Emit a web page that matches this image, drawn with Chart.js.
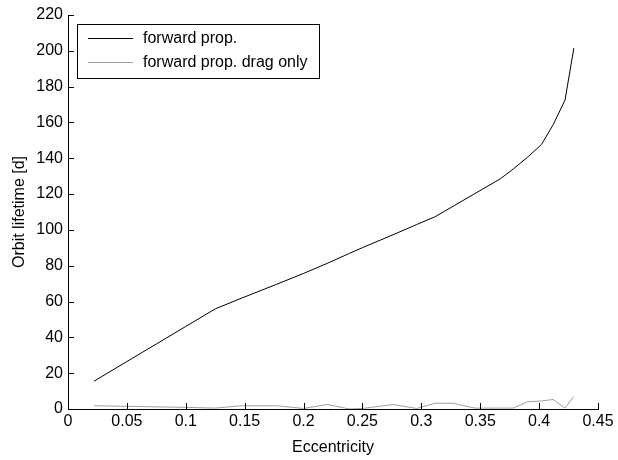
<!DOCTYPE html>
<html>
<head>
<meta charset="utf-8">
<script src="https://cdn.jsdelivr.net/npm/chart.js@4/dist/chart.umd.min.js"></script>
<style>
  html, body { margin: 0; padding: 0; background: #fff; }
  #wrap { width: 618px; height: 460px; }
</style>
</head>
<body>
<div id="wrap"><canvas id="lifetimeChart" width="618" height="460"></canvas></div>
<script>
// Eccentricity samples (shared by both curves)
const eccentricity = [0.022, 0.05, 0.075, 0.1, 0.125, 0.147, 0.177, 0.2, 0.22, 0.239, 0.25, 0.276,
  0.296, 0.3115, 0.327, 0.3455, 0.367, 0.378, 0.39, 0.402, 0.412, 0.422, 0.4295];

// Orbit lifetime in days
const forwardProp = [15.5, 26.5, 36.3, 46.1, 55.9, 61.8, 69.6, 75.7, 81.3, 86.9, 90.1, 97.3,
  103, 107.3, 113.2, 120.3, 128.5, 134, 140.5, 147.7, 158.8, 172.5, 201.5];
const dragOnly = [1.8, 1.5, 1.2, 0.9, 0.5, 1.8, 1.8, 0.3, 2.5, 0, 0.3, 2.5,
  0.3, 3.2, 3.2, 0.5, 0.5, 0.5, 4, 4.5, 5.3, 0.5, 7];

const seriesLabels = ['forward prop.', 'forward prop. drag only'];
const seriesColors = ['#000000', '#a0a0a0'];

const xTicks = [0, 0.05, 0.1, 0.15, 0.2, 0.25, 0.3, 0.35, 0.4, 0.45];
const yTicks = [0, 20, 40, 60, 80, 100, 120, 140, 160, 180, 200, 220];

const FONT = "'Liberation Sans', Arial, sans-serif";
const FONT_SIZE = 16;

function toPoints(ys) {
  return eccentricity.map((e, i) => ({ x: e, y: ys[i] }));
}

// inward tick marks + legend box drawn inside the axes
const matlabStyle = {
  id: 'matlabStyle',
  afterDraw(chart) {
    const ctx = chart.ctx;
    const xs = chart.scales.x;
    const ys = chart.scales.y;
    const area = chart.chartArea;
    ctx.save();
    ctx.strokeStyle = '#000';
    ctx.lineWidth = 1;
    ctx.beginPath();
    xTicks.forEach(v => {
      const px = Math.round(xs.getPixelForValue(v)) + 0.5;
      ctx.moveTo(px, area.bottom);
      ctx.lineTo(px, area.bottom - 6);
    });
    yTicks.forEach(v => {
      const py = Math.round(ys.getPixelForValue(v)) + 0.5;
      ctx.moveTo(area.left, py);
      ctx.lineTo(area.left + 6, py);
    });
    ctx.stroke();

    // legend
    const lx = 77.5, ly = 24.5, lw = 242, lh = 54;
    ctx.fillStyle = '#fff';
    ctx.fillRect(lx, ly, lw, lh);
    ctx.strokeRect(lx, ly, lw, lh);
    ctx.font = FONT_SIZE + 'px ' + FONT;
    ctx.textBaseline = 'middle';
    chart.data.datasets.forEach((ds, i) => {
      const y = 38.5 + i * 24;
      ctx.strokeStyle = ds.borderColor;
      ctx.beginPath();
      ctx.moveTo(88, y);
      ctx.lineTo(133, y);
      ctx.stroke();
      ctx.fillStyle = '#000';
      ctx.fillText(ds.label, 143, y);
    });
    ctx.restore();
  }
};

const ctx = document.getElementById('lifetimeChart').getContext('2d');
const lifetimeChart = new Chart(ctx, {
  type: 'line',
  data: {
    datasets: [
      {
        label: seriesLabels[0],
        data: toPoints(forwardProp),
        borderColor: seriesColors[0],
        borderWidth: 1,
        pointRadius: 0,
        fill: false,
        tension: 0
      },
      {
        label: seriesLabels[1],
        data: toPoints(dragOnly),
        borderColor: seriesColors[1],
        borderWidth: 1,
        pointRadius: 0,
        fill: false,
        tension: 0
      }
    ]
  },
  options: {
    responsive: false,
    animation: false,
    devicePixelRatio: 1,
    layout: { padding: { left: 0, right: 20, top: 15, bottom: 0 } },
    plugins: {
      legend: { display: false },
      tooltip: { enabled: false }
    },
    scales: {
      x: {
        type: 'linear',
        min: 0,
        max: 0.45,
        afterBuildTicks: scale => { scale.ticks = xTicks.map(v => ({ value: v })); },
        afterFit: scale => { scale.height = 51; },
        ticks: {
          color: '#000',
          font: { family: FONT, size: FONT_SIZE },
          padding: 3,
          maxRotation: 0,
          autoSkip: false,
          callback: v => String(Math.round(v * 100) / 100)
        },
        grid: { display: true, drawOnChartArea: false, drawTicks: false },
        border: { display: true, color: '#000', width: 1 },
        title: {
          display: true,
          text: 'Eccentricity',
          color: '#000',
          font: { family: FONT, size: FONT_SIZE },
          padding: { top: 0, bottom: 3 }
        }
      },
      y: {
        type: 'linear',
        min: 0,
        max: 220,
        afterBuildTicks: scale => { scale.ticks = yTicks.map(v => ({ value: v })); },
        afterFit: scale => { scale.width = 68; },
        ticks: {
          color: '#000',
          font: { family: FONT, size: FONT_SIZE },
          padding: 5,
          autoSkip: false
        },
        grid: { display: true, drawOnChartArea: false, drawTicks: false },
        border: { display: true, color: '#000', width: 1 },
        title: {
          display: true,
          text: 'Orbit lifetime [d]',
          color: '#000',
          font: { family: FONT, size: FONT_SIZE },
          padding: { top: 10, bottom: 0 }
        }
      }
    }
  },
  plugins: [matlabStyle]
});
</script>
</body>
</html>
